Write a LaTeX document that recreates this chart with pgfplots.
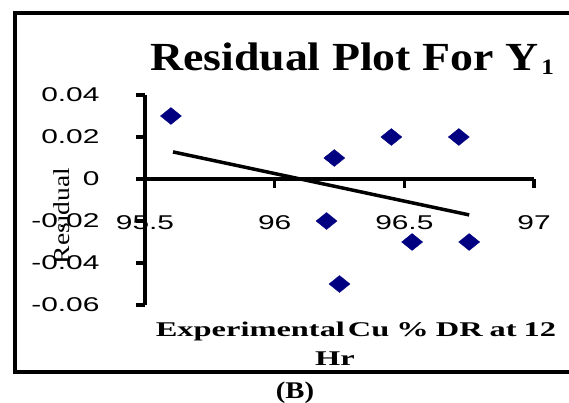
\documentclass[border=0pt]{standalone}
\usepackage{pgfplots}
\pgfplotsset{compat=1.18}
\usepackage{fontspec}
\newfontfamily\tickfont[FakeStretch=1.5]{Liberation Sans}
\newfontfamily\titlefont[FakeStretch=1.15]{Liberation Serif}
\newfontfamily\labfont[FakeStretch=1.55]{Liberation Serif}
\newfontfamily\bfont[FakeStretch=1.2]{Liberation Serif}
\definecolor{navy}{RGB}{0,0,128}

\begin{document}
\begin{tikzpicture}[x=1bp,y=1bp]
\path[use as bounding box] (0,0) rectangle (569,402);
% chart area frame (right side runs off the picture)
\draw[line width=3.5bp] (575,389) -- (15,389) -- (15,30) -- (575,30);

\begin{axis}[at={(145bp,97bp)},anchor=south west,scale only axis,
  width=389bp,height=210bp,
  xmin=95.5,xmax=97,ymin=-0.06,ymax=0.04,
  axis x line=middle,axis y line=left,
  axis line style={line width=4bp,-},
  hide obscured x ticks=false,hide obscured y ticks=false,
  scaled y ticks=false,scaled x ticks=false,
  xtick={95.5,96,96.5,97},xticklabels={95.5,96,96.5,97},
  ytick={-0.06,-0.04,-0.02,0,0.02,0.04},
  yticklabels={-0.06,-0.04,-0.02,0,0.02,0.04},
  tick align=outside,major tick length=9bp,
  tick style={line width=3.5bp,black},
  tick label style={font={\tickfont\fontsize{20}{20}\selectfont}},
  xticklabel style={yshift=-24bp},
  yticklabel style={xshift=-33bp},
  clip=false]

% residuals
\addplot[only marks,mark=diamond*,mark size=8.5bp,
  mark options={xscale=1.65,fill=navy,draw=navy,line width=0.3bp}]
  coordinates {
  (95.60,0.03)(96.20,-0.02)(96.23,0.01)(96.25,-0.05)
  (96.45,0.02)(96.53,-0.03)(96.71,0.02)(96.75,-0.03)};

% linear trend
\addplot[black,line width=3.5bp] coordinates {(95.608,0.0129)(96.75,-0.0171)};
\end{axis}

\node[anchor=base,inner sep=0] at (352,332)
  {\titlefont\bfseries\fontsize{40}{40}\selectfont Residual Plot For Y\kern3bp\raisebox{-4bp}{\fontsize{22}{22}\selectfont 1}};
\node[rotate=90,inner sep=0] at (62,186)
  {\bfont\fontsize{23}{23}\selectfont Residual};
\node[anchor=base,inner sep=0] at (356,66)
  {\labfont\bfseries\fontsize{21}{21}\selectfont\spaceskip=7bp Experimental\kern3bp Cu \% DR at 12};
\node[anchor=base,inner sep=0] at (335,37)
  {\labfont\bfseries\fontsize{21}{21}\selectfont Hr};
\node[anchor=base,inner sep=0] at (295,4)
  {\bfont\bfseries\fontsize{24}{24}\selectfont (B)};
\end{tikzpicture}
\end{document}
